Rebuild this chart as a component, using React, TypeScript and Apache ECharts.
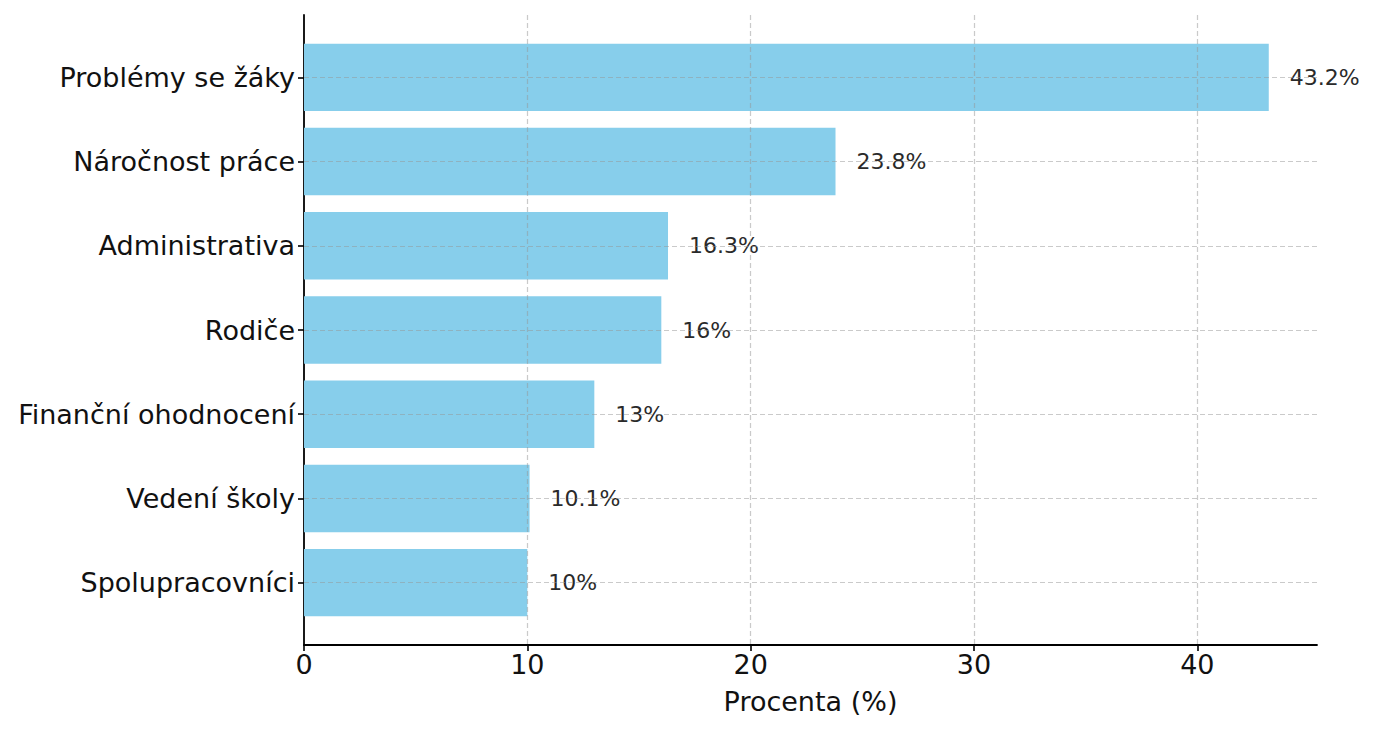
import React, { useEffect, useRef } from "react";
import * as echarts from "echarts";

const categories: string[] = [
  "Problémy se žáky",
  "Náročnost práce",
  "Administrativa",
  "Rodiče",
  "Finanční ohodnocení",
  "Vedení školy",
  "Spolupracovníci",
];
const percentValues: number[] = [43.2, 23.8, 16.3, 16, 13, 10.1, 10];
const xTickValues: number[] = [0, 10, 20, 30, 40];
const xGridValues: number[] = [10, 20, 30, 40];
const axisTitle = "Procenta (%)";

const FONT = "DejaVu Sans";
const BAR_COLOR = "#87CEEB";
const GRID_STYLE = { color: "rgba(150,150,150,0.5)", width: 1.2, type: [5, 3] as number[] };

export default function App() {
  const ref = useRef<HTMLDivElement>(null);

  useEffect(() => {
    if (!ref.current) return;
    const chart = echarts.init(ref.current, undefined, { renderer: "svg" });
    const data = percentValues.map((v, i) => [v, i]);
    const catIdx = categories.map((_, i) => i);
    const xMax = Math.max(...percentValues) * 1.05;
    const yPad = (categories.length - 1 + 0.8) * 0.05 + 0.4;

    chart.setOption({
      animation: false,
      grid: { left: 304, right: 62, top: 15, bottom: 87 },
      xAxis: {
        type: "value",
        min: 0,
        max: xMax,
        name: axisTitle,
        nameLocation: "middle",
        nameGap: 43,
        nameTextStyle: { fontFamily: FONT, fontSize: 27, color: "#111" },
        axisLine: { show: true, onZero: false, lineStyle: { color: "#000", width: 1.8 } },
        axisTick: {
          show: true,
          customValues: xTickValues,
          length: 6,
          inside: false,
          lineStyle: { color: "#000", width: 1.6 },
        },
        axisLabel: {
          customValues: xTickValues,
          fontFamily: FONT,
          fontSize: 27,
          color: "#111",
          margin: 6,
        },
        splitLine: { show: false },
      },
      yAxis: {
        type: "value",
        min: -yPad,
        max: categories.length - 1 + yPad,
        inverse: true,
        axisLine: { show: true, onZero: false, lineStyle: { color: "#000", width: 1.8 } },
        axisTick: {
          show: true,
          customValues: catIdx,
          length: 6,
          inside: false,
          lineStyle: { color: "#000", width: 1.6 },
        },
        axisLabel: {
          customValues: catIdx,
          formatter: (v: number) => categories[Math.round(v)] ?? "",
          fontFamily: FONT,
          fontSize: 27,
          color: "#111",
          margin: 9,
          padding: [6, 0, 0, 0],
        },
        splitLine: { show: false },
      },
      series: [
        {
          type: "custom",
          z: 2,
          data,
          encode: { x: 0, y: 1 },
          renderItem: (_params: any, api: any) => {
            const v = api.value(0);
            const i = api.value(1);
            const s = api.coord([0, i]);
            const e = api.coord([v, i]);
            const h = Math.abs(api.size([0, 0.8])[1]);
            return {
              type: "rect",
              shape: { x: s[0], y: s[1] - h / 2, width: e[0] - s[0], height: h },
              style: { fill: BAR_COLOR },
            };
          },
          markLine: {
            silent: true,
            symbol: ["none", "none"],
            label: { show: false },
            lineStyle: GRID_STYLE,
            emphasis: { disabled: true },
            data: [
              ...xGridValues.map((x) => ({ xAxis: x })),
              ...catIdx.map((y) => ({ yAxis: y })),
            ],
          },
        },
        {
          type: "custom",
          z: 4,
          data,
          encode: { x: 0, y: 1 },
          renderItem: (_params: any, api: any) => {
            const v = api.value(0);
            const i = api.value(1);
            const e = api.coord([v, i]);
            return {
              type: "text",
              x: e[0] + 21,
              y: e[1],
              style: {
                text: `${v}%`,
                fill: "#2a2a2a",
                fontFamily: FONT,
                fontSize: 22,
                align: "left",
                verticalAlign: "middle",
              },
            };
          },
        },
      ],
    });
    return () => chart.dispose();
  }, []);

  return (
    <div
      ref={ref}
      style={{ position: "fixed", left: 0, top: 0, width: 1379, height: 732, background: "#fff" }}
    />
  );
}
